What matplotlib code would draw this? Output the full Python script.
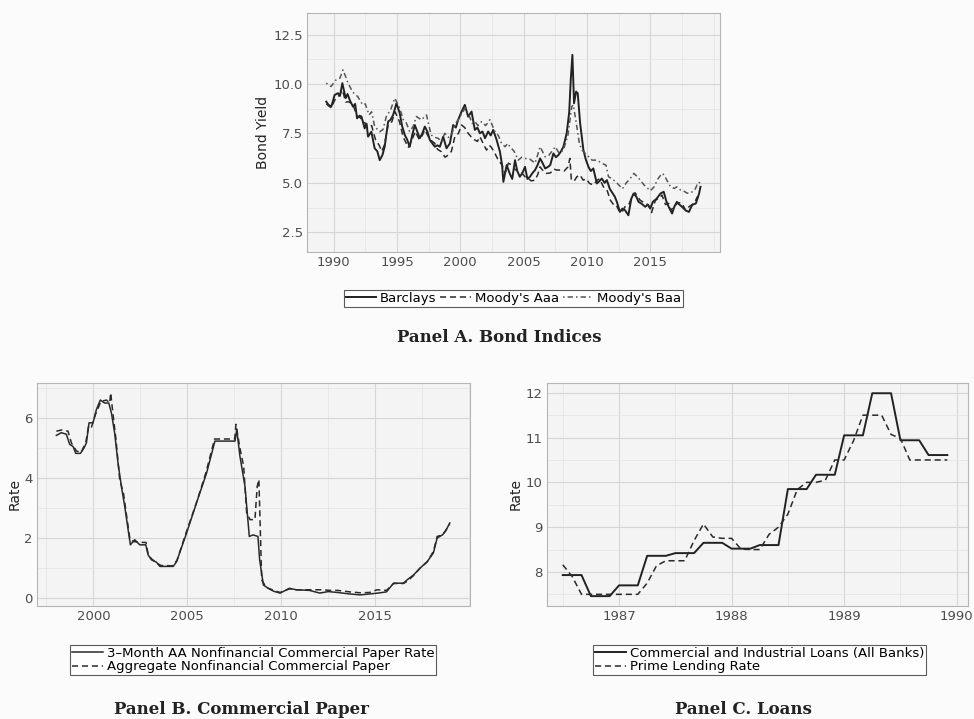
import numpy as np
import matplotlib.pyplot as plt
from matplotlib.ticker import MultipleLocator

# Panel A: bond yields (decimal years)
barclays_x = [1989.42, 1989.6, 1989.82, 1990.08, 1990.34, 1990.5, 1990.69, 1990.95, 1991.1, 1991.27,
              1991.53, 1991.7, 1991.85, 1992.05, 1992.2, 1992.45, 1992.6, 1992.72, 1992.98, 1993.24,
              1993.45, 1993.64, 1993.85, 1994.03, 1994.3, 1994.5, 1994.7, 1994.96, 1995.22, 1995.4,
              1995.62, 1995.8, 1996.01, 1996.2, 1996.41, 1996.6, 1996.8, 1997.0, 1997.2, 1997.4,
              1997.6, 1997.99, 1998.2, 1998.39, 1998.65, 1998.91, 1999.18, 1999.44, 1999.65, 1999.83,
              2000.1, 2000.36, 2000.62, 2000.89, 2001.15, 2001.35, 2001.55, 2001.75, 2001.95, 2002.2,
              2002.4, 2002.6, 2002.87, 2003.13, 2003.3, 2003.4, 2003.66, 2003.9, 2004.1, 2004.32,
              2004.5, 2004.7, 2004.9, 2005.11, 2005.3, 2005.5, 2005.7, 2005.9, 2006.1, 2006.3,
              2006.5, 2006.7, 2006.9, 2007.1, 2007.35, 2007.55, 2007.75, 2007.95, 2008.14, 2008.4,
              2008.6, 2008.72, 2008.85, 2008.98, 2009.14, 2009.27, 2009.46, 2009.72, 2009.9, 2010.12,
              2010.3, 2010.5, 2010.78, 2011.0, 2011.17, 2011.4, 2011.57, 2011.8, 2012.0, 2012.2,
              2012.36, 2012.6, 2012.8, 2013.0, 2013.27, 2013.5, 2013.68, 2013.9, 2014.07, 2014.3,
              2014.6, 2014.8, 2015.0, 2015.2, 2015.5, 2015.8, 2016.06, 2016.25, 2016.45, 2016.72,
              2016.9, 2017.1, 2017.3, 2017.5, 2017.8, 2018.05, 2018.3, 2018.6, 2018.85, 2018.96]
barclays_y = [9.11, 8.95, 8.86, 9.45, 9.54, 9.4, 10.05, 9.29, 9.5, 9.2,
              8.86, 9.0, 8.27, 8.4, 8.36, 7.76, 8.0, 7.34, 7.59, 6.75,
              6.6, 6.15, 6.4, 6.83, 8.1, 8.2, 8.44, 9.03, 8.53, 7.9,
              7.42, 7.2, 6.83, 7.4, 7.93, 7.6, 7.26, 7.5, 7.85, 7.6,
              7.17, 6.83, 6.9, 6.83, 7.34, 6.75, 7.0, 7.93, 7.8, 8.19,
              8.61, 8.95, 8.35, 8.61, 7.68, 7.8, 7.51, 7.6, 7.26, 7.6,
              7.4, 7.68, 7.17, 6.58, 5.9, 5.05, 5.9, 5.48, 5.2, 6.15,
              5.6, 5.31, 5.5, 5.81, 5.2, 5.31, 5.5, 5.65, 5.9, 6.24,
              6.0, 5.73, 5.8, 5.9, 6.49, 6.3, 6.41, 6.6, 6.83, 7.51,
              8.6, 10.22, 11.48, 9.03, 9.62, 9.54, 8.02, 6.66, 6.2, 5.81,
              5.6, 5.73, 4.97, 5.1, 5.22, 5.0, 5.14, 4.7, 4.5, 4.3,
              4.04, 3.53, 3.7, 3.62, 3.36, 4.2, 4.46, 4.3, 4.04, 3.95,
              3.79, 3.9, 3.7, 4.04, 4.2, 4.46, 4.55, 4.1, 3.79, 3.45,
              3.8, 4.04, 3.9, 3.79, 3.6, 3.53, 3.88, 3.96, 4.46, 4.8]

aaa_x = [1989.42, 1989.8, 1990.1, 1990.4, 1990.7, 1990.95, 1991.2, 1991.5, 1991.85, 1992.1,
         1992.4, 1992.7, 1993.0, 1993.3, 1993.6, 1993.8, 1994.0, 1994.3, 1994.6, 1994.85,
         1995.2, 1995.5, 1995.9, 1996.2, 1996.45, 1996.75, 1997.0, 1997.2, 1997.6, 1997.99,
         1998.2, 1998.5, 1998.8, 1999.05, 1999.3, 1999.57, 1999.85, 2000.1, 2000.35, 2000.62,
         2000.9, 2001.15, 2001.35, 2001.55, 2001.8, 2002.07, 2002.3, 2002.45, 2002.65, 2003.0,
         2003.3, 2003.53, 2003.8, 2004.06, 2004.3, 2004.58, 2004.85, 2005.11, 2005.4, 2005.6,
         2005.9, 2006.1, 2006.3, 2006.55, 2006.8, 2007.1, 2007.4, 2007.6, 2007.9, 2008.2,
         2008.5, 2008.65, 2008.77, 2009.0, 2009.2, 2009.45, 2009.7, 2009.95, 2010.2, 2010.5,
         2010.8, 2011.0, 2011.3, 2011.6, 2011.85, 2012.1, 2012.3, 2012.5, 2012.75, 2013.0,
         2013.3, 2013.55, 2013.8, 2014.2, 2014.5, 2014.86, 2015.1, 2015.4, 2015.65, 2015.92,
         2016.2, 2016.45, 2016.6, 2016.85, 2017.2, 2017.5, 2017.8, 2018.05, 2018.3, 2018.5,
         2018.7, 2018.85, 2018.96]
aaa_y = [9.0, 8.8, 9.2, 9.4, 9.7, 9.1, 9.1, 9.0, 8.4, 8.3,
         8.1, 7.8, 7.9, 7.2, 6.9, 6.6, 6.9, 7.9, 8.1, 8.6,
         8.1, 7.3, 6.8, 7.2, 7.6, 7.2, 7.4, 7.68, 7.2, 7.0,
         6.7, 6.58, 6.3, 6.41, 6.6, 7.34, 7.5, 7.93, 7.8, 7.51,
         7.3, 7.17, 7.1, 7.34, 7.0, 6.66, 6.9, 6.8, 6.6, 6.15,
         5.9, 5.48, 6.0, 5.9, 5.7, 5.56, 5.5, 5.31, 5.2, 5.1,
         5.14, 5.4, 5.81, 5.6, 5.48, 5.5, 5.7, 5.65, 5.65, 5.6,
         5.81, 6.24, 5.14, 5.1, 5.31, 5.4, 5.14, 5.2, 4.97, 4.9,
         5.14, 5.2, 4.8, 4.6, 4.12, 3.9, 3.9, 3.62, 3.5, 3.79,
         3.9, 4.29, 4.5, 4.12, 4.0, 3.88, 3.5, 4.12, 4.2, 4.38,
         3.9, 3.96, 3.6, 3.79, 4.0, 3.96, 3.6, 3.79, 3.9, 4.0,
         4.29, 4.2, 4.1]

baa_x = [1989.42, 1989.8, 1990.2, 1990.5, 1990.74, 1991.0, 1991.14, 1991.5, 1991.9, 1992.3,
         1992.5, 1992.8, 1993.0, 1993.24, 1993.64, 1993.9, 1994.16, 1994.5, 1994.83, 1995.22,
         1995.5, 1995.75, 1996.0, 1996.27, 1996.54, 1996.93, 1997.33, 1997.7, 1998.0, 1998.25,
         1998.5, 1998.78, 1999.05, 1999.3, 1999.6, 1999.83, 2000.22, 2000.4, 2000.7, 2000.95,
         2001.15, 2001.4, 2001.68, 2002.0, 2002.34, 2002.73, 2003.0, 2003.26, 2003.53, 2003.75,
         2003.92, 2004.25, 2004.58, 2004.85, 2005.1, 2005.5, 2005.9, 2006.1, 2006.3, 2006.7,
         2007.0, 2007.5, 2007.8, 2008.14, 2008.5, 2008.8, 2008.92, 2009.2, 2009.4, 2009.6,
         2010.0, 2010.4, 2010.8, 2011.2, 2011.5, 2011.7, 2012.0, 2012.4, 2012.8, 2013.1,
         2013.42, 2013.7, 2014.0, 2014.2, 2014.5, 2014.8, 2015.0, 2015.3, 2015.6, 2015.92,
         2016.1, 2016.3, 2016.6, 2016.9, 2017.1, 2017.4, 2017.6, 2017.9, 2018.2, 2018.5,
         2018.7, 2018.82, 2018.96]
baa_y = [10.05, 9.88, 10.22, 10.3, 10.72, 10.3, 10.05, 9.6, 9.37, 8.95,
         9.0, 8.44, 8.6, 7.85, 7.59, 7.7, 8.36, 8.7, 9.29, 8.78,
         8.2, 8.02, 7.6, 7.85, 8.36, 8.19, 8.44, 7.42, 7.3, 7.26,
         7.1, 7.51, 7.3, 7.42, 8.0, 8.19, 8.61, 8.8, 8.4, 8.0,
         8.1, 7.9, 8.1, 7.9, 8.2, 7.6, 7.4, 7.0, 6.83, 7.0,
         6.83, 6.6, 6.15, 6.3, 6.24, 6.2, 6.0, 6.4, 6.83, 6.32,
         6.4, 6.83, 6.5, 6.66, 7.42, 8.86, 8.95, 7.85, 7.0, 6.66,
         6.41, 6.15, 6.15, 5.98, 5.9, 5.31, 5.2, 4.97, 4.7, 5.0,
         5.22, 5.48, 5.3, 5.14, 4.9, 4.72, 4.6, 4.8, 5.2, 5.48,
         5.4, 5.14, 4.8, 4.72, 4.8, 4.63, 4.6, 4.48, 4.5, 4.63,
         4.9, 4.9, 5.2]

# Panel B: commercial paper rates
cp3m_x = [1998.03, 1998.29, 1998.56, 1998.74, 1998.92, 1999.06, 1999.31, 1999.5, 1999.63, 1999.77,
          1999.98, 2000.16, 2000.37, 2000.6, 2000.82, 2000.96, 2001.13, 2001.31, 2001.49, 2001.67,
          2001.85, 2001.97, 2002.2, 2002.47, 2002.79, 2002.91, 2003.09, 2003.36, 2003.54, 2004.25,
          2004.43, 2004.96, 2005.49, 2006.03, 2006.47, 2007.0, 2007.54, 2007.63, 2007.8, 2008.07,
          2008.3, 2008.5, 2008.76, 2008.85, 2009.05, 2009.3, 2009.6, 2009.94, 2010.1, 2010.43,
          2010.8, 2011.5, 2012.05, 2012.5, 2013.0, 2013.65, 2014.2, 2014.7, 2015.15, 2015.6,
          2015.98, 2016.5, 2016.7, 2017.05, 2017.4, 2017.77, 2018.1, 2018.3, 2018.58, 2018.75,
          2018.97]
cp3m_y = [5.42, 5.51, 5.46, 5.12, 5.05, 4.82, 4.82, 5.0, 5.17, 5.84,
          5.84, 6.28, 6.6, 6.5, 6.5, 6.17, 5.51, 4.51, 3.72, 3.05,
          2.27, 1.77, 1.94, 1.77, 1.77, 1.44, 1.27, 1.19, 1.05, 1.05,
          1.21, 2.16, 3.17, 4.17, 5.23, 5.23, 5.23, 5.62, 4.73, 3.72,
          2.05, 2.1, 2.05, 1.27, 0.43, 0.32, 0.22, 0.16, 0.21, 0.32,
          0.27, 0.25, 0.16, 0.21, 0.18, 0.13, 0.1, 0.13, 0.16, 0.2,
          0.49, 0.49, 0.6, 0.77, 1.0, 1.21, 1.5, 2.0, 2.1, 2.23,
          2.5]

aggcp_x = [1998.03, 1998.3, 1998.65, 1998.83, 1999.1, 1999.35, 1999.6, 1999.75, 1999.9, 2000.1,
           2000.4, 2000.7, 2000.87, 2000.92, 2001.05, 2001.2, 2001.4, 2001.6, 2001.8, 2001.95,
           2002.13, 2002.5, 2002.8, 2002.92, 2003.1, 2003.4, 2003.6, 2004.2, 2004.45, 2004.95,
           2005.5, 2006.0, 2006.45, 2007.0, 2007.52, 2007.59, 2007.8, 2008.0, 2008.16, 2008.34,
           2008.6, 2008.72, 2008.81, 2008.96, 2009.2, 2009.6, 2009.94, 2010.1, 2010.43, 2010.8,
           2011.5, 2012.2, 2012.6, 2013.0, 2013.65, 2014.2, 2014.7, 2015.1, 2015.6, 2015.98,
           2016.5, 2016.7, 2017.05, 2017.4, 2017.77, 2018.1, 2018.3, 2018.58, 2018.75, 2018.97]
aggcp_y = [5.56, 5.6, 5.56, 5.17, 4.9, 4.85, 5.2, 5.75, 5.7, 6.1,
           6.55, 6.6, 6.5, 6.84, 6.1, 5.3, 3.95, 3.5, 2.6, 1.94,
           1.88, 1.85, 1.85, 1.44, 1.3, 1.15, 1.08, 1.07, 1.25, 2.2,
           3.2, 4.2, 5.3, 5.3, 5.3, 5.79, 5.0, 4.39, 2.83, 2.61,
           2.61, 3.72, 3.95, 0.6, 0.35, 0.25, 0.18, 0.22, 0.3, 0.27,
           0.27, 0.27, 0.25, 0.25, 0.2, 0.17, 0.18, 0.27, 0.25, 0.48,
           0.48, 0.55, 0.75, 1.0, 1.2, 1.55, 2.05, 2.1, 2.25, 2.45]

# Panel C: loans, monthly from Jul 1986 to Dec 1989
loan_months = np.arange(42)
ci_loans = [7.93, 7.93, 7.93, 7.46, 7.46, 7.46, 7.70, 7.70, 7.70, 8.36, 8.36, 8.36,
            8.42, 8.42, 8.42, 8.65, 8.65, 8.65, 8.52, 8.52, 8.52, 8.60, 8.60, 8.60,
            9.85, 9.85, 9.85, 10.17, 10.17, 10.17, 11.05, 11.05, 11.05, 11.99, 11.99, 11.99,
            10.94, 10.94, 10.94, 10.61, 10.61, 10.61]
prime_rate = [8.16, 7.90, 7.50, 7.50, 7.50, 7.50, 7.50, 7.50, 7.50, 7.75, 8.14, 8.25,
              8.25, 8.25, 8.70, 9.07, 8.78, 8.75, 8.75, 8.51, 8.50, 8.50, 8.84, 9.00,
              9.29, 9.84, 10.00, 10.00, 10.05, 10.50, 10.50, 10.93, 11.50, 11.50, 11.50, 11.07,
              10.98, 10.50, 10.50, 10.50, 10.50, 10.50]

LINE = '#2a2a2a'
GRID = '#d6d6d6'
TXT = '#4d4d4d'


def style_axes(ax, ylabel):
    ax.set_facecolor('#f4f4f4')
    ax.grid(True, which='major', color=GRID, lw=0.8)
    ax.grid(True, which='minor', color='#e3e3e3', lw=0.5)
    ax.set_axisbelow(True)
    for s in ax.spines.values():
        s.set_color('#b5b5b5')
        s.set_linewidth(0.8)
    ax.tick_params(which='both', length=0, labelsize=9.5, labelcolor=TXT, pad=3)
    ax.set_ylabel(ylabel, fontsize=10, color='#222222', labelpad=2)


def add_legend(ax, center, ncol):
    leg = ax.legend(loc='center', bbox_to_anchor=center, bbox_transform=fig.transFigure,
                    ncol=ncol, fontsize=9.5, frameon=True, fancybox=False,
                    handlelength=2.3, handletextpad=0.3, columnspacing=0.3,
                    borderpad=0.15, labelspacing=0.05, borderaxespad=0)
    leg.get_frame().set_edgecolor('#333333')
    leg.get_frame().set_linewidth(0.8)
    leg.get_frame().set_facecolor('white')
    return leg


fig = plt.figure(figsize=(9.74, 7.19), dpi=100, facecolor='#fbfbfb')
title_font = dict(family='DejaVu Serif', fontweight='bold', fontsize=12, color='#222222')

# panel A
axA = fig.add_axes([0.3152, 0.6495, 0.424, 0.3324])
axA.plot(barclays_x, barclays_y, color='#222222', lw=1.4, label='Barclays')
axA.plot(aaa_x, aaa_y, color=LINE, lw=1.1, dashes=(4, 2.5), label="Moody's Aaa")
axA.plot(baa_x, baa_y, color='#555555', lw=1.1, dashes=(1, 2, 3.5, 2), label="Moody's Baa")
axA.set_xlim(1987.9, 2020.5)
axA.set_ylim(1.5, 13.6)
axA.xaxis.set_minor_locator(MultipleLocator(2.5))
axA.yaxis.set_minor_locator(MultipleLocator(1.25))
axA.set_xticks([1990, 1995, 2000, 2005, 2010, 2015])
axA.set_yticks([2.5, 5.0, 7.5, 10.0, 12.5])
axA.set_yticklabels(['2.5', '5.0', '7.5', '10.0', '12.5'])
style_axes(axA, 'Bond Yield')
add_legend(axA, (0.527, 0.5855), 3)
fig.text(0.513, 0.531, 'Panel A. Bond Indices', ha='center', va='center', **title_font)

# panel B
axB = fig.add_axes([0.038, 0.1572, 0.4446, 0.3102])
axB.plot(cp3m_x, cp3m_y, color=LINE, lw=1.1, label='3\u2013Month AA Nonfinancial Commercial Paper Rate')
axB.plot(aggcp_x, aggcp_y, color=LINE, lw=1.1, dashes=(4, 2.5), label='Aggregate Nonfinancial Commercial Paper')
axB.set_xlim(1997.0, 2020.05)
axB.set_ylim(-0.27, 7.17)
axB.xaxis.set_minor_locator(MultipleLocator(2.5))
axB.yaxis.set_major_locator(MultipleLocator(2))
axB.yaxis.set_minor_locator(MultipleLocator(1))
axB.set_xticks([2000, 2005, 2010, 2015])
style_axes(axB, 'Rate')
add_legend(axB, (0.26, 0.082), 1)
fig.text(0.248, 0.013, 'Panel B. Commercial Paper', ha='center', va='center', **title_font)

# panel C
loan_x = 1986.5 + loan_months / 12.0
axC = fig.add_axes([0.5616, 0.1572, 0.4322, 0.3102])
axC.plot(loan_x, ci_loans, color='#222222', lw=1.4, label='Commercial and Industrial Loans (All Banks)')
axC.plot(loan_x, prime_rate, color=LINE, lw=1.1, dashes=(4, 2.5), label='Prime Lending Rate')
axC.set_xlim(1986.36, 1990.1)
axC.set_ylim(7.24, 12.22)
axC.xaxis.set_minor_locator(MultipleLocator(0.5))
axC.yaxis.set_major_locator(MultipleLocator(1))
axC.yaxis.set_minor_locator(MultipleLocator(0.5))
axC.set_xticks([1987, 1988, 1989, 1990])
style_axes(axC, 'Rate')
add_legend(axC, (0.78, 0.082), 1)
fig.text(0.763, 0.013, 'Panel C. Loans', ha='center', va='center', **title_font)

fig.savefig('out.png', dpi=100, facecolor=fig.get_facecolor())
